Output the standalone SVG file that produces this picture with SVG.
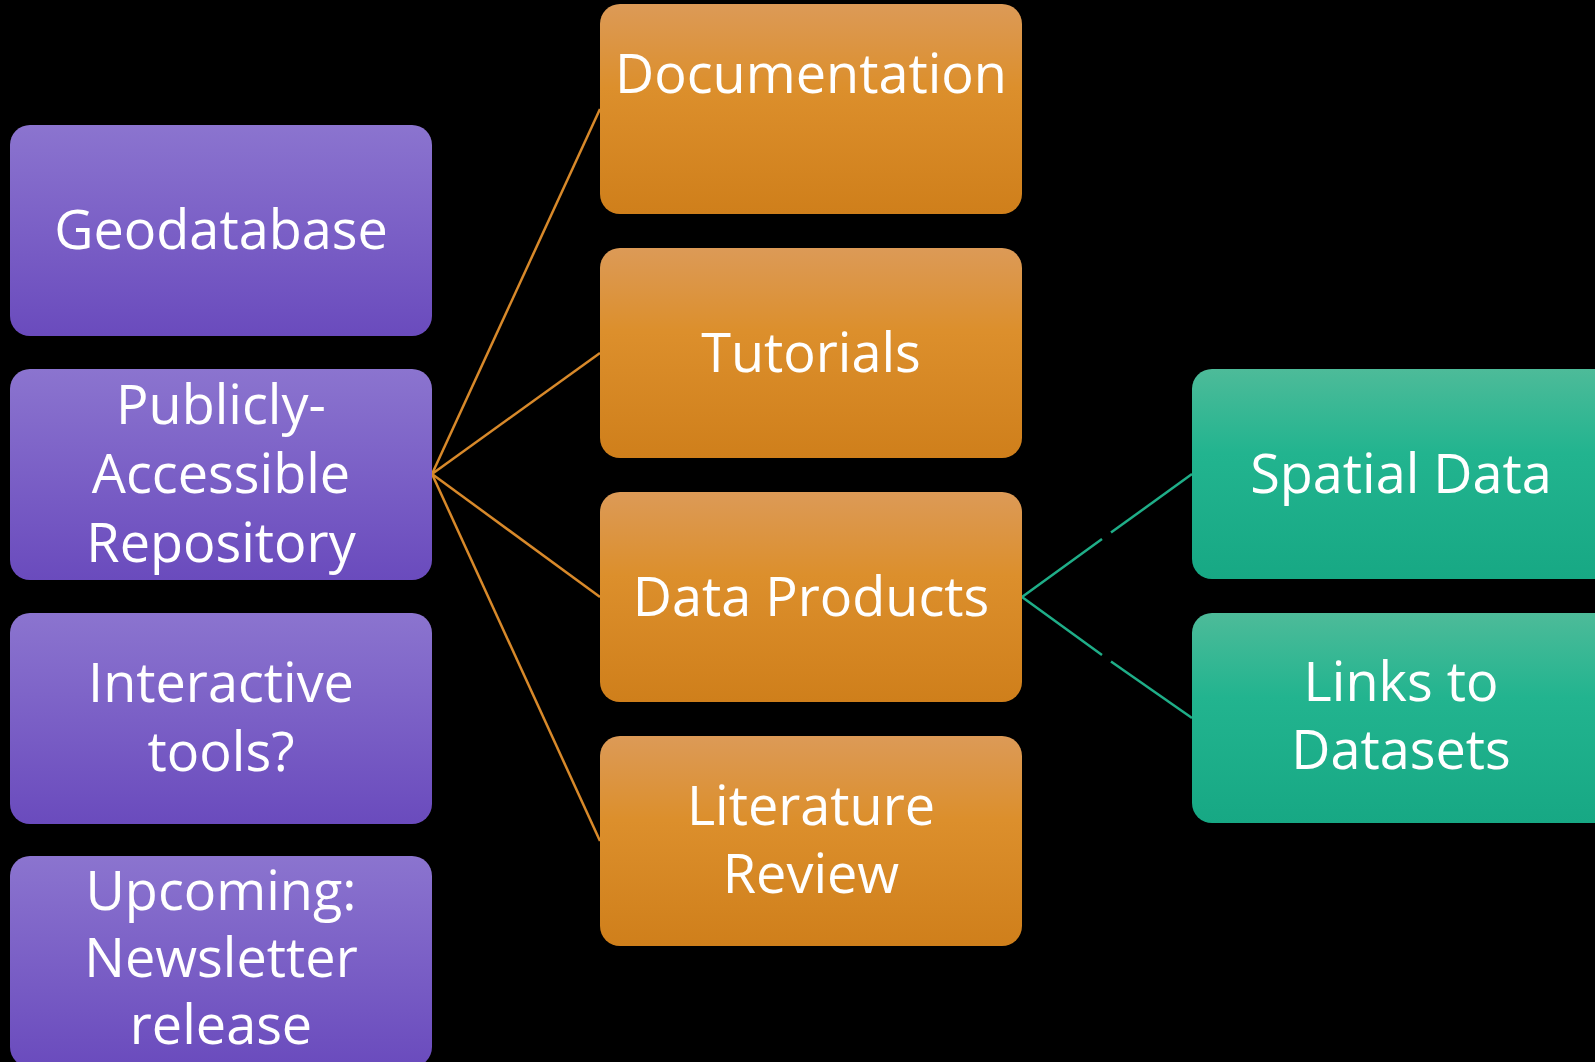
<svg xmlns="http://www.w3.org/2000/svg" width="1595" height="1062" viewBox="0 0 1595 1062">
<defs>
<linearGradient id="gp" x1="0" y1="0" x2="0" y2="1"><stop offset="0" stop-color="#8b74cf"/><stop offset="1" stop-color="#6a4bbd"/></linearGradient>
<linearGradient id="go" x1="0" y1="0" x2="0" y2="1"><stop offset="0" stop-color="#dc9a57"/><stop offset="0.4" stop-color="#dc8f2c"/><stop offset="1" stop-color="#cf7f1b"/></linearGradient>
<linearGradient id="gg" x1="0" y1="0" x2="0" y2="1"><stop offset="0" stop-color="#4dbb99"/><stop offset="0.4" stop-color="#22b48f"/><stop offset="1" stop-color="#17a884"/></linearGradient>
<style>
.p{fill:url(#gp)}
.o{fill:url(#go)}
.g{fill:url(#gg)}
.t{font-family:"Open Sans","Noto Sans",sans-serif;font-size:54px;fill:#ffffff;text-anchor:middle}
.co{stroke:#d8892a;stroke-width:2.5;fill:none}
.cg{stroke:#1fae88;stroke-width:2.5;fill:none}
</style>
</defs>
<rect width="1595" height="1062" fill="#000000"/>
<g id="connectors">
<line class="co" x1="432" y1="474" x2="600" y2="109"/>
<line class="co" x1="432" y1="474" x2="600" y2="353"/>
<line class="co" x1="432" y1="474" x2="600" y2="597"/>
<line class="co" x1="432" y1="474" x2="600" y2="841"/>
<polyline class="cg" points="1102,539.1 1022,597 1102,654.9"/>
<line class="cg" x1="1111" y1="532.6" x2="1192" y2="474"/>
<line class="cg" x1="1111" y1="661.4" x2="1192" y2="718"/>
</g>
<g id="geodatabase"><rect class="p" x="10" y="125" width="422" height="211" rx="20"/><text class="t" x="221" y="249">Geodatabase</text></g>
<g id="repository"><rect class="p" x="10" y="369" width="422" height="211" rx="20"/><text class="t" x="221" y="424">Publicly-</text><text class="t" x="221" y="493">Accessible</text><text class="t" x="221" y="562">Repository</text></g>
<g id="interactive"><rect class="p" x="10" y="613" width="422" height="211" rx="20"/><text class="t" x="221" y="702">Interactive</text><text class="t" x="221" y="771">tools?</text></g>
<g id="upcoming"><rect class="p" x="10" y="856" width="422" height="211" rx="20"/><text class="t" x="221" y="910">Upcoming:</text><text class="t" x="221" y="977">Newsletter</text><text class="t" x="221" y="1044">release</text></g>
<g id="documentation"><rect class="o" x="600" y="4" width="422" height="210" rx="20"/><text class="t" x="811" y="93">Documentation</text></g>
<g id="tutorials"><rect class="o" x="600" y="248" width="422" height="210" rx="20"/><text class="t" x="811" y="372">Tutorials</text></g>
<g id="dataproducts"><rect class="o" x="600" y="492" width="422" height="210" rx="20"/><text class="t" x="811" y="616">Data Products</text></g>
<g id="literature"><rect class="o" x="600" y="736" width="422" height="210" rx="20"/><text class="t" x="811" y="825">Literature</text><text class="t" x="811" y="893">Review</text></g>
<g id="spatialdata"><rect class="g" x="1192" y="369" width="422" height="210" rx="20"/><text class="t" x="1401" y="493">Spatial Data</text></g>
<g id="links"><rect class="g" x="1192" y="613" width="422" height="210" rx="20"/><text class="t" x="1401" y="701">Links to</text><text class="t" x="1401" y="769">Datasets</text></g>
</svg>
